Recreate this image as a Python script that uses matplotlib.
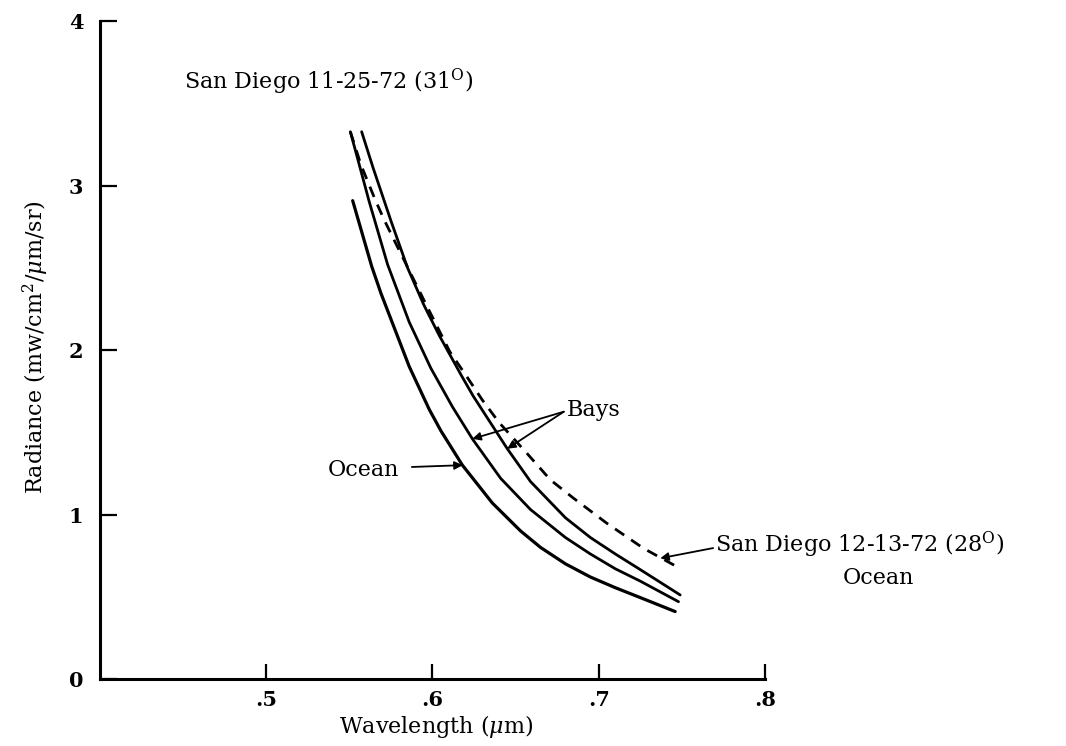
import matplotlib
matplotlib.use("Agg")
import matplotlib.pyplot as plt

plt.rcParams['font.family'] = ['DejaVu Serif']
plt.rcParams['mathtext.fontset'] = 'dejavuserif'

# curves (wavelength um, radiance)
# San Diego 11-25-72, ocean
ocean_x = [0.552, 0.5634, 0.569, 0.586, 0.598, 0.605, 0.618, 0.636, 0.653,
           0.665, 0.680, 0.695, 0.710, 0.725, 0.746]
ocean_y = [2.908, 2.51, 2.345, 1.90, 1.64, 1.51, 1.30, 1.07, 0.90,
           0.80, 0.70, 0.62, 0.555, 0.495, 0.41]

# San Diego 11-25-72, bays (lower one)
bay1_x = [0.5506, 0.556, 0.562, 0.573, 0.586, 0.599, 0.612, 0.624, 0.641,
          0.659, 0.680, 0.695, 0.710, 0.725, 0.748]
bay1_y = [3.327, 3.125, 2.90, 2.52, 2.17, 1.89, 1.655, 1.46, 1.22,
          1.03, 0.86, 0.76, 0.67, 0.595, 0.47]

# San Diego 11-25-72, bays (upper one)
bay2_x = [0.5574, 0.5642, 0.5752, 0.585, 0.595, 0.604, 0.6174, 0.6245, 0.645,
          0.659, 0.680, 0.695, 0.710, 0.725, 0.749]
bay2_y = [3.327, 3.11, 2.78, 2.50, 2.27, 2.09, 1.845, 1.72, 1.40,
          1.20, 0.98, 0.86, 0.76, 0.665, 0.511]

# San Diego 12-13-72, ocean (dashed)
dec13_x = [0.5506, 0.557, 0.5656, 0.571, 0.5794, 0.595, 0.6104, 0.620, 0.630,
           0.640, 0.657, 0.671, 0.685, 0.705, 0.727, 0.747, 0.750]
dec13_y = [3.327, 3.125, 2.912, 2.79, 2.618, 2.30, 1.990, 1.848, 1.696,
           1.56, 1.37, 1.21, 1.098, 0.946, 0.794, 0.683, 0.675]

xticks = [0.5, 0.6, 0.7, 0.8]
xticklabels = ['.5', '.6', '.7', '.8']
yticks = [0, 1, 2, 3, 4]

fig = plt.figure(figsize=(10.66, 7.46), dpi=100)
ax = fig.add_axes([0.0938, 0.0898, 0.6238, 0.882])

ax.plot(ocean_x, ocean_y, color='black', lw=2.3, solid_capstyle='round',
        solid_joinstyle='round')
ax.plot(bay1_x, bay1_y, color='black', lw=2.0, solid_capstyle='round',
        solid_joinstyle='round')
ax.plot(bay2_x, bay2_y, color='black', lw=2.0, solid_capstyle='round',
        solid_joinstyle='round')
ax.plot(dec13_x, dec13_y, color='black', lw=2.0, dashes=(4, 3))

ax.set_xlim(0.4, 0.8)
ax.set_ylim(0, 4)
ax.spines['top'].set_visible(False)
ax.spines['right'].set_visible(False)
ax.spines['left'].set_linewidth(2.2)
ax.spines['bottom'].set_linewidth(2.2)

ax.set_xticks(xticks)
ax.set_xticklabels(xticklabels, fontsize=15, fontweight='bold')
ax.set_yticks(yticks)
ax.set_yticklabels([str(v) for v in yticks], fontsize=15, fontweight='bold')
ax.tick_params(axis='x', direction='in', length=11, width=1.6, pad=8)
ax.tick_params(axis='y', direction='in', length=12, width=1.6, pad=12)

fig.text(436 / 1066, 1 - 727 / 746, r'Wavelength ($\mu$m)', fontsize=16,
         ha='center', va='center')
fig.text(36 / 1066, 1 - 347 / 746, r'Radiance (mw/cm$^2$/$\mu$m/sr)', fontsize=16,
         ha='center', va='center', rotation=90)

arrow = dict(arrowstyle='-|>', lw=1.3, color='black', mutation_scale=12,
             shrinkA=0, shrinkB=0)

ax.text(0.4508, 3.63, r'San Diego 11-25-72 (31$^{\mathrm{O}}$)', fontsize=16,
        ha='left', va='center')

ax.text(0.6806, 1.635, 'Bays', fontsize=16, ha='left', va='center')
ax.annotate('', xy=(0.624, 1.46), xytext=(0.679, 1.625), arrowprops=arrow)
ax.annotate('', xy=(0.645, 1.40), xytext=(0.679, 1.625), arrowprops=arrow)

ax.text(0.5798, 1.27, 'Ocean', fontsize=16, ha='right', va='center')
ax.annotate('', xy=(0.6182, 1.30), xytext=(0.5876, 1.289), arrowprops=arrow)

ax.text(0.770, 0.815, r'San Diego 12-13-72 (28$^{\mathrm{O}}$)', fontsize=16,
        ha='left', va='center', clip_on=False)
ax.text(0.868, 0.614, 'Ocean', fontsize=16, ha='center', va='center', clip_on=False)
ax.annotate('', xy=(0.737, 0.734), xytext=(0.7688, 0.796), arrowprops=arrow)

fig.savefig('out.png', dpi=100)
